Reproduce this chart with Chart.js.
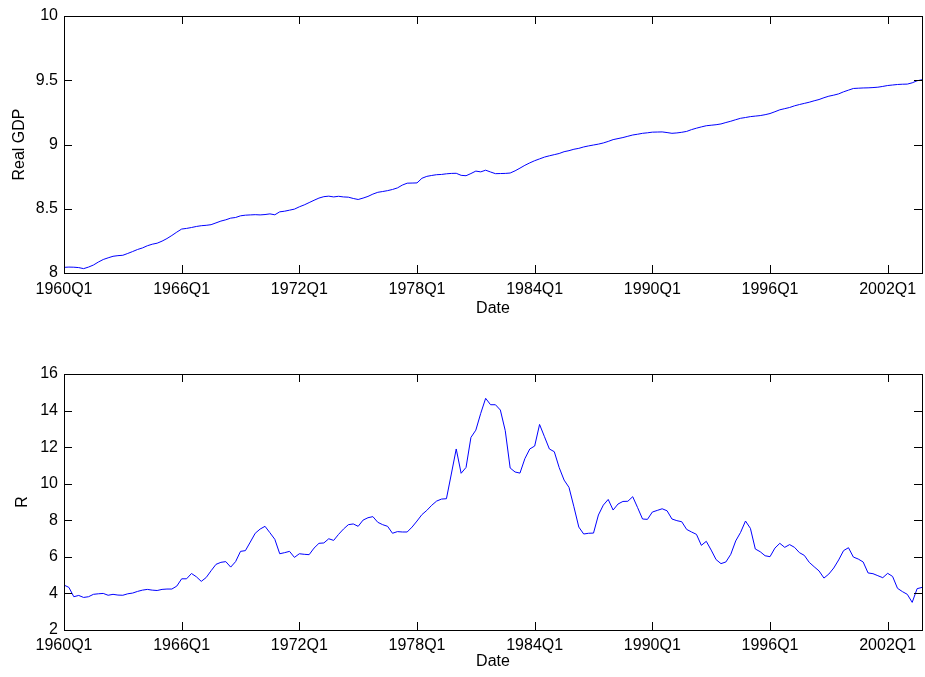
<!DOCTYPE html>
<html>
<head>
<meta charset="utf-8">
<script src="https://cdn.jsdelivr.net/npm/chart.js@4.4.0/dist/chart.umd.min.js"></script>
<style>
body { margin: 0; background: #fff; }
#wrap { position: relative; width: 925px; height: 677px; }
canvas { position: absolute; left: 0; }
</style>
</head>
<body>
<div id="wrap">
  <canvas id="gdpChart" width="925" height="338" style="top:0px"></canvas>
  <canvas id="rateChart" width="925" height="339" style="top:338px"></canvas>
</div>
<script>
// quarterly sample, 1960Q1 .. 2003Q4
const startYear = 1960;
const endYear = 2003;
const tickLabels = ['1960Q1', '1966Q1', '1972Q1', '1978Q1', '1984Q1', '1990Q1', '1996Q1', '2002Q1'];

// log real GDP
const realGdp = [
  8.044, 8.046, 8.045, 8.042, 8.034, 8.046, 8.062, 8.085, 8.105, 8.118,
  8.130, 8.135, 8.138, 8.152, 8.167, 8.183, 8.195, 8.212, 8.224, 8.232,
  8.248, 8.268, 8.292, 8.318, 8.342, 8.347, 8.354, 8.362, 8.368, 8.371,
  8.376, 8.390, 8.404, 8.414, 8.427, 8.432, 8.445, 8.450, 8.452, 8.454,
  8.452, 8.455, 8.460, 8.453, 8.476, 8.481, 8.489, 8.497, 8.515, 8.530,
  8.548, 8.566, 8.583, 8.594, 8.598, 8.592, 8.597, 8.592, 8.590, 8.580,
  8.572, 8.583, 8.596, 8.614, 8.628, 8.634, 8.641, 8.650, 8.662, 8.684,
  8.699, 8.700, 8.701, 8.737, 8.752, 8.759, 8.765, 8.767, 8.772, 8.775,
  8.776, 8.760, 8.757, 8.774, 8.793, 8.787, 8.800, 8.786, 8.773, 8.774,
  8.775, 8.778, 8.795, 8.816, 8.838, 8.857, 8.874, 8.888, 8.902, 8.912,
  8.921, 8.930, 8.944, 8.952, 8.963, 8.970, 8.981, 8.989, 8.996, 9.003,
  9.012, 9.024, 9.038, 9.046, 9.054, 9.064, 9.074, 9.080, 9.087, 9.091,
  9.096, 9.097, 9.098, 9.093, 9.087, 9.090, 9.095, 9.102, 9.116, 9.127,
  9.137, 9.146, 9.150, 9.154, 9.160, 9.171, 9.181, 9.193, 9.204, 9.210,
  9.217, 9.221, 9.225, 9.232, 9.241, 9.255, 9.270, 9.279, 9.288, 9.301,
  9.311, 9.320, 9.329, 9.340, 9.350, 9.364, 9.376, 9.384, 9.394, 9.410,
  9.423, 9.436, 9.438, 9.440, 9.441, 9.443, 9.446, 9.452, 9.459, 9.463,
  9.467, 9.469, 9.470, 9.480, 9.496, 9.504
];

// interest rate R
const rate = [
  4.46, 4.33, 3.82, 3.89, 3.78, 3.82, 3.95, 3.98, 4.00, 3.90,
  3.95, 3.91, 3.90, 3.98, 4.02, 4.11, 4.18, 4.22, 4.18, 4.16,
  4.22, 4.24, 4.24, 4.40, 4.80, 4.80, 5.09, 4.91, 4.66, 4.87,
  5.24, 5.59, 5.70, 5.74, 5.44, 5.74, 6.30, 6.34, 6.81, 7.29,
  7.52, 7.67, 7.32, 6.96, 6.17, 6.23, 6.30, 5.97, 6.17, 6.14,
  6.12, 6.48, 6.74, 6.76, 6.99, 6.90, 7.23, 7.52, 7.76, 7.80,
  7.67, 8.01, 8.14, 8.20, 7.89, 7.76, 7.67, 7.29, 7.38, 7.36,
  7.36, 7.63, 7.96, 8.31, 8.54, 8.82, 9.05, 9.16, 9.18, 10.53,
  11.90, 10.57, 10.89, 12.53, 12.93, 13.85, 14.67, 14.32, 14.32, 14.03,
  12.90, 10.86, 10.64, 10.58, 11.37, 11.90, 12.06, 13.24, 12.57, 11.90,
  11.75, 10.88, 10.20, 9.80, 8.74, 7.63, 7.25, 7.29, 7.30, 8.29,
  8.83, 9.14, 8.56, 8.89, 9.03, 9.04, 9.29, 8.69, 8.07, 8.05,
  8.45, 8.54, 8.63, 8.52, 8.07, 7.98, 7.92, 7.50, 7.36, 7.23,
  6.63, 6.85, 6.37, 5.85, 5.63, 5.72, 6.14, 6.87, 7.34, 7.96,
  7.56, 6.43, 6.28, 6.06, 6.01, 6.48, 6.74, 6.52, 6.67, 6.52,
  6.23, 6.08, 5.70, 5.46, 5.23, 4.84, 5.06, 5.39, 5.83, 6.34,
  6.50, 5.99, 5.88, 5.72, 5.12, 5.08, 4.97, 4.86, 5.10, 4.93,
  4.28, 4.10, 3.95, 3.51, 4.26, 4.33
];

let quarters = [];
for (let y = startYear; y <= endYear; y++) {
  for (let q = 1; q <= 4; q++) quarters.push(y + 'Q' + q);
}

const fontSpec = { family: "'Liberation Sans', Arial, sans-serif", size: 16 };

// matlab style box with inward ticks on every side
const boxTicks = {
  id: 'boxTicks',
  afterDraw(chart) {
    const ctx = chart.ctx;
    const a = chart.chartArea;
    const xs = chart.scales.x;
    const ys = chart.scales.y;
    const len = 8;
    ctx.save();
    ctx.strokeStyle = '#000';
    ctx.lineWidth = 1;
    ctx.beginPath();
    tickLabels.forEach(lab => {
      let px = Math.round(xs.getPixelForValue(quarters.indexOf(lab))) + 0.5;
      ctx.moveTo(px, a.bottom); ctx.lineTo(px, a.bottom - len);
      ctx.moveTo(px, a.top); ctx.lineTo(px, a.top + len);
    });
    ys.ticks.forEach(t => {
      let py = Math.round(ys.getPixelForValue(t.value)) + 0.5;
      ctx.moveTo(a.left, py); ctx.lineTo(a.left + len, py);
      ctx.moveTo(a.right, py); ctx.lineTo(a.right - len, py);
    });
    ctx.stroke();
    ctx.strokeRect(Math.round(a.left) + 0.5, Math.round(a.top) + 0.5,
      Math.round(a.right - a.left), Math.round(a.bottom - a.top));
    ctx.restore();
  }
};

function makeChart(canvasId, values, yTitle, yMin, yMax, yStep, opts) {
  return new Chart(document.getElementById(canvasId), {
    type: 'line',
    data: {
      labels: quarters,
      datasets: [{
        data: values,
        borderColor: '#0000ff',
        borderWidth: 1,
        pointRadius: 0,
        tension: 0,
        fill: false
      }]
    },
    options: {
      responsive: false,
      animation: false,
      devicePixelRatio: 1,
      layout: { padding: { top: opts.top, right: 3, left: 0, bottom: 0 } },
      plugins: { legend: { display: false }, tooltip: { enabled: false } },
      scales: {
        x: {
          type: 'category',
          grid: { display: false, drawTicks: false },
          border: { display: false },
          ticks: {
            autoSkip: false,
            maxRotation: 0,
            padding: opts.xPad,
            color: '#000',
            font: fontSpec,
            callback: function (val, i) {
              let lab = quarters[i];
              return tickLabels.includes(lab) ? lab : null;
            }
          },
          title: {
            display: true, text: 'Date', color: '#000', font: fontSpec,
            padding: { top: 0, bottom: opts.dateBottom }
          },
          afterFit: function (scale) { scale.height = opts.xHeight; }
        },
        y: {
          min: yMin, max: yMax,
          grid: { display: false, drawTicks: false },
          border: { display: false },
          ticks: {
            stepSize: yStep, padding: 6, color: '#000', font: fontSpec,
            callback: function (v) { return String(+v.toFixed(2)); }
          },
          title: {
            display: true, text: yTitle, color: '#000', font: fontSpec,
            padding: { top: opts.yTitleTop, bottom: 0 }
          },
          afterFit: function (scale) { scale.width = 64; }
        }
      }
    },
    plugins: [boxTicks]
  });
}

let gdpChart = makeChart('gdpChart', realGdp, 'Real GDP', 8, 10, 0.5,
  { top: 16, xHeight: 65, xPad: 7, dateBottom: 20, yTitleTop: 10 });
let rateChart = makeChart('rateChart', rate, 'R', 2, 16, 2,
  { top: 36, xHeight: 47, xPad: 6, dateBottom: 6, yTitleTop: 13 });
</script>
</body>
</html>
